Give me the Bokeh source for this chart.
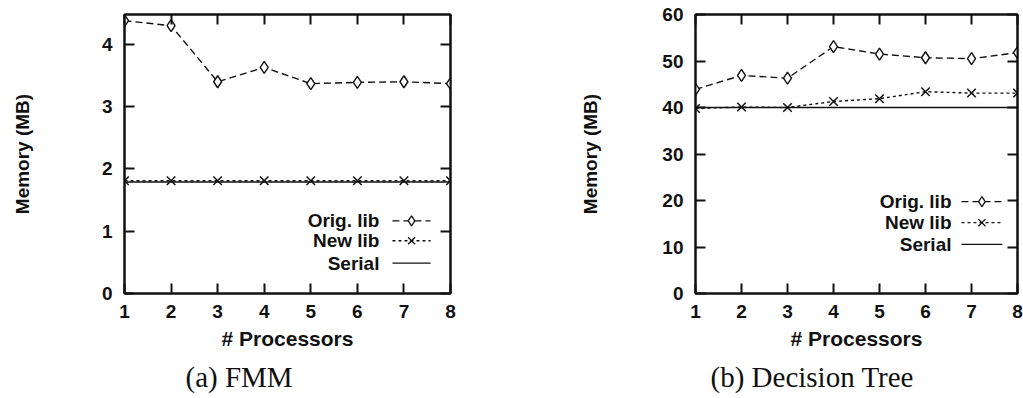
from bokeh.plotting import figure
from bokeh.layouts import row
from bokeh.models import (LinearAxis, FixedTicker, Range1d, Label, Title)
from bokeh.embed import file_html
from bokeh.resources import INLINE

# ---- data ----
procs = [1, 2, 3, 4, 5, 6, 7, 8]
fmm_orig = [4.38, 4.30, 3.40, 3.63, 3.37, 3.39, 3.40, 3.37]
fmm_new = [1.81, 1.81, 1.81, 1.81, 1.81, 1.81, 1.81, 1.81]
fmm_serial = [1.79, 1.79, 1.79, 1.79, 1.79, 1.79, 1.79, 1.79]
dt_orig = [43.9, 46.9, 46.3, 53.1, 51.5, 50.7, 50.5, 51.8]
dt_new = [39.8, 40.1, 40.0, 41.3, 41.9, 43.4, 43.1, 43.1]
dt_serial = [40.0, 40.0, 40.0, 40.0, 40.0, 40.0, 40.0, 40.0]
fmm_yticks = [0, 1, 2, 3, 4]
dt_yticks = [0, 10, 20, 30, 40, 50, 60]
legend_labels = ["Orig. lib", "New lib", "Serial"]
captions = ["(a) FMM", "(b) Decision Tree"]

SANS = "Liberation Sans"
SERIF = "Liberation Serif"
BLACK = "#111111"
FS = "19px"


def make_panel(orig, new, serial, yticks, ymax, caption, width, borders, leg,
               ystand, cap_off):
    bl, br, bt, bb = borders
    p = figure(width=width, height=398, output_backend="svg", toolbar_location=None,
               x_range=Range1d(1, 8), y_range=Range1d(0, ymax),
               min_border_left=bl, min_border_right=br, min_border_top=bt,
               min_border_bottom=bb, background_fill_color="white",
               border_fill_color="white")
    p.xgrid.visible = False
    p.ygrid.visible = False
    p.outline_line_color = BLACK
    p.outline_line_width = 2

    for ax in (p.xaxis[0], p.yaxis[0]):
        ax.axis_line_color = BLACK
        ax.axis_line_width = 2
        ax.major_tick_in = 10
        ax.major_tick_out = 0
        ax.minor_tick_line_color = None
        ax.major_tick_line_color = BLACK
        ax.major_tick_line_width = 2
        ax.major_label_text_font = SANS
        ax.major_label_text_font_size = FS
        ax.major_label_text_font_style = "bold"
        ax.major_label_text_color = BLACK
        ax.axis_label_text_font = SANS
        ax.axis_label_text_font_size = FS
        ax.axis_label_text_font_style = "bold"
        ax.axis_label_text_color = BLACK

    p.xaxis[0].ticker = FixedTicker(ticks=procs)
    p.xaxis[0].axis_label = "# Processors"
    p.xaxis[0].axis_label_text_font_size = "21px"
    p.xaxis[0].major_label_standoff = 11
    p.xaxis[0].axis_label_standoff = 6
    p.yaxis[0].ticker = FixedTicker(ticks=yticks)
    p.yaxis[0].axis_label = "Memory (MB)"
    p.yaxis[0].major_label_standoff = 12
    p.yaxis[0].axis_label_standoff = ystand

    # mirrored tick marks on top and right (no labels)
    top = LinearAxis(ticker=FixedTicker(ticks=procs),
                     major_label_overrides={t: "" for t in procs})
    right = LinearAxis(ticker=FixedTicker(ticks=yticks),
                       major_label_overrides={t: "" for t in yticks})
    for ax in (top, right):
        ax.axis_line_color = BLACK
        ax.axis_line_width = 2
        ax.major_tick_in = 10
        ax.major_tick_out = 0
        ax.major_tick_line_width = 2
        ax.major_tick_line_color = BLACK
        ax.minor_tick_line_color = None
        ax.major_label_standoff = 0
        ax.major_label_text_font_size = "1px"
    p.add_layout(top, "above")
    p.add_layout(right, "right")

    # data lines
    p.line(procs, orig, line_color=BLACK, line_width=1.4, line_dash="7 4")
    p.scatter(procs, orig, marker="diamond", size=12, fill_color="white",
              line_color=BLACK, line_width=1.4)
    p.line(procs, new, line_color=BLACK, line_width=1.4, line_dash="3 3")
    p.scatter(procs, new, marker="x", size=12, line_color=BLACK, line_width=1.5)
    p.line(procs, serial, line_color=BLACK, line_width=1.7)

    # hand-made legend (label left, sample right, like gnuplot)
    tx, sx0, sx1, ys = leg
    def fx(f):
        return 1 + f * 7
    def fy(f):
        return f * ymax
    styles = [("7 4", "diamond"), ("3 3", "x"), ("solid", None)]
    for lab, yf, (dash, mk) in zip(legend_labels, ys, styles):
        p.add_layout(Label(x=fx(tx), y=fy(yf), text=lab, text_align="right",
                           text_baseline="middle", text_font=SANS,
                           text_font_size=FS, text_font_style="bold",
                           text_color=BLACK))
        p.line([fx(sx0), fx(sx1)], [fy(yf), fy(yf)], line_color=BLACK,
               line_width=1.3, line_dash=dash)
        if mk:
            p.scatter([fx((sx0 + sx1) / 2)], [fy(yf)], marker=mk, size=10,
                      fill_color="white", line_color=BLACK, line_width=1.3)

    cap = Title(text=caption, align="left", offset=cap_off, text_font=SERIF,
                text_font_size="29px", text_font_style="normal",
                text_color=BLACK, standoff=12)
    p.add_layout(cap, "below")
    return p


p1 = make_panel(fmm_orig, fmm_new, fmm_serial, fmm_yticks, 4.48, captions[0],
                545, (124, 95, 12, 104),
                (0.782, 0.822, 0.939, (0.26, 0.189, 0.109)), 66, 61)
p2 = make_panel(dt_orig, dt_new, dt_serial, dt_yticks, 60, captions[1],
                478, (150, 6, 14, 101),
                (0.795, 0.826, 0.953, (0.329, 0.254, 0.176)), 58, 15)

layout = row(p1, p2)
open("out.html", "w").write(file_html(layout, INLINE))
